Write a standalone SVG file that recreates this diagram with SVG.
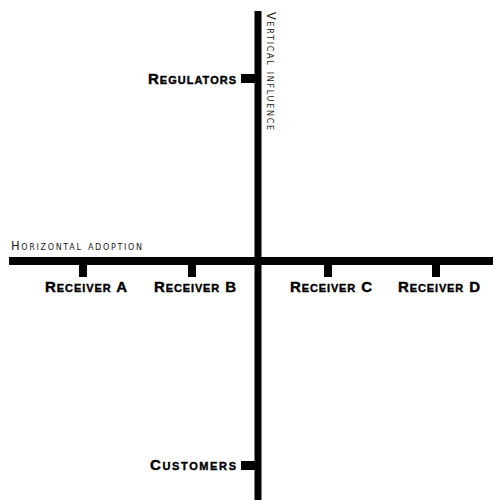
<svg xmlns="http://www.w3.org/2000/svg" width="493" height="500" viewBox="0 0 493 500">
<style>
.lbl{font-family:"Liberation Sans",Arial,sans-serif;font-weight:bold;font-size:15px;font-variant:small-caps;fill:#000;stroke:#000;stroke-width:0.4}
.ax{font-family:"DejaVu Sans",Verdana,sans-serif;font-size:11.5px;font-variant:small-caps;fill:#222}
.bar{fill:#000}
</style>
<rect width="493" height="500" fill="#fff"/>
<g id="connectors">
<rect class="bar" x="254.5" y="11" width="7" height="489"/>
<rect class="bar" x="9" y="257" width="484" height="8"/>
<text class="ax" x="11" y="250" textLength="131" lengthAdjust="spacing">Horizontal adoption</text>
<text class="ax" transform="translate(267,12) rotate(90)" x="0" y="0" textLength="118" lengthAdjust="spacing">Vertical influence</text>
</g>
<g id="regulators">
<rect class="bar" x="241" y="74" width="14" height="9"/>
<text class="lbl" x="148" y="84" textLength="88" lengthAdjust="spacing">Regulators</text>
</g>
<g id="customers">
<rect class="bar" x="241" y="461" width="14" height="9"/>
<text class="lbl" x="150" y="470" textLength="86" lengthAdjust="spacing">Customers</text>
</g>
<g id="receiverA">
<rect class="bar" x="79" y="264" width="8" height="13"/>
<text class="lbl" x="45" y="292" textLength="82" lengthAdjust="spacing">Receiver A</text>
</g>
<g id="receiverB">
<rect class="bar" x="188" y="264" width="8" height="13"/>
<text class="lbl" x="154" y="292" textLength="82" lengthAdjust="spacing">Receiver B</text>
</g>
<g id="receiverC">
<rect class="bar" x="324" y="264" width="8" height="13"/>
<text class="lbl" x="290" y="292" textLength="82" lengthAdjust="spacing">Receiver C</text>
</g>
<g id="receiverD">
<rect class="bar" x="432" y="264" width="8" height="13"/>
<text class="lbl" x="398" y="292" textLength="82" lengthAdjust="spacing">Receiver D</text>
</g>
</svg>
